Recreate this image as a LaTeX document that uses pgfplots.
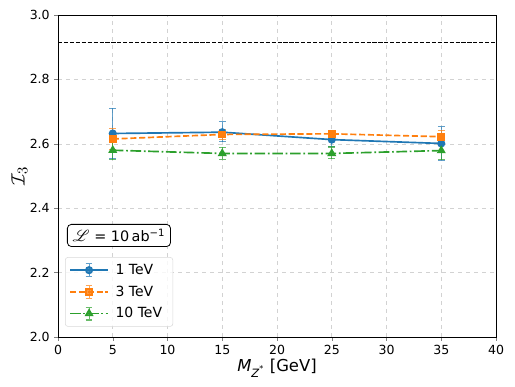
\documentclass[border=0pt]{standalone}
\usepackage{pgfplots}
\pgfplotsset{compat=1.18}
\usepackage{fontspec}
\usepackage{mathrsfs}
\setmainfont{DejaVu Sans}
\definecolor{tabblue}{HTML}{1F77B4}
\definecolor{taborange}{HTML}{FF7F0E}
\definecolor{tabgreen}{HTML}{2CA02C}

\pgfplotstableread{
x y ep em
5  2.632 0.078 0.078
15 2.636 0.033 0.030
25 2.613 0.020 0.022
35 2.601 0.052 0.052
}\tevone
\pgfplotstableread{
x y ep em
5  2.615 0.032 0.032
15 2.629 0.015 0.015
25 2.631 0.010 0.010
35 2.622 0.020 0.020
}\tevthree
\pgfplotstableread{
x y ep em
5  2.580 0.032 0.030
15 2.570 0.019 0.018
25 2.570 0.020 0.016
35 2.579 0.030 0.029
}\tevten

\begin{document}
\begin{tikzpicture}
\begin{axis}[
  scale only axis, width=328.5pt, height=241.5pt,
  xmin=0, xmax=40, ymin=2.0, ymax=3.0,
  xtick={0,5,...,40}, ytick={2.0,2.2,...,3.0},
  yticklabel style={/pgf/number format/.cd,fixed,fixed zerofill,precision=1},
  /pgf/number format/assume math mode=true,
  tick label style={font=\fontsize{9.4}{11}\selectfont},
  tick align=outside, xtick pos=bottom, ytick pos=left,
  major tick length=2.7pt,
  grid=major, grid style={dashed, gray!35, line width=0.4pt},
  axis line style={line width=0.6pt},
  xlabel={{\itshape M}\textsubscript{\itshape Z\textsuperscript{*}} [GeV]},
  ylabel={$\mathcal{I}_3$},
  label style={font=\fontsize{12.3}{14}\selectfont},
  xlabel style={at={(axis description cs:0.5,-0.0964)}, anchor=center},
  ylabel style={at={(axis description cs:-0.088,0.5)}, anchor=center,
    font=\fontsize{15}{17}\selectfont},
  legend style={at={(axis cs:0.64,2.248)}, anchor=north west,
    draw=gray!30, rounded corners=2pt, fill=white, fill opacity=0.8, text opacity=1,
    font=\fontsize{10.5}{12}\selectfont, row sep=3pt, inner sep=3pt,
    nodes={inner xsep=5pt}},
  legend cell align=left,
  legend image code/.code={
    \draw[#1] (0cm,0cm) -- (1.0cm,0cm);
    \draw[#1,solid,mark=none,opacity=0.7,line width=0.8pt] (0.5cm,-0.17cm) -- (0.5cm,0.17cm)
      (0.41cm,-0.17cm) -- (0.59cm,-0.17cm) (0.41cm,0.17cm) -- (0.59cm,0.17cm);
    \draw[#1,solid,only marks] plot coordinates {(0.5cm,0cm)};
  },
  error bars/error bar style={solid, opacity=0.7, line width=0.8pt},
  error bars/error mark options={rotate=90, mark size=2.6pt, line width=0.8pt, opacity=0.7},
]
\addplot[tabblue, line width=1.25pt, mark=*, mark size=2.4pt,
  error bars/.cd, y dir=both, y explicit]
  table[x=x, y=y, y error plus=ep, y error minus=em] {\tevone};
\addlegendentry{1 TeV}
\addplot[taborange, line width=1.25pt, dash pattern=on 4.6pt off 2pt,
  mark=square*, mark size=2.3pt, mark options={solid},
  error bars/.cd, y dir=both, y explicit]
  table[x=x, y=y, y error plus=ep, y error minus=em] {\tevthree};
\addlegendentry{3 TeV}
\addplot[tabgreen, line width=1.25pt, dash pattern=on 8pt off 2pt on 1.3pt off 2pt,
  mark=triangle*, mark size=2.7pt, mark options={solid},
  error bars/.cd, y dir=both, y explicit]
  table[x=x, y=y, y error plus=ep, y error minus=em] {\tevten};
\addlegendentry{10 TeV}
\addplot[black, line width=0.75pt, dash pattern=on 3.1pt off 1.35pt, forget plot]
  coordinates {(0,2.916)(40,2.916)};
\node[draw=black, rounded corners=3pt, fill=white, anchor=north west,
  inner xsep=4pt, inner ysep=3.5pt,
  font=\fontsize{10.8}{12}\selectfont, line width=0.6pt]
  at (axis cs:0.82,2.351) {{\fontsize{12.5}{13}\selectfont$\mathscr{L}$} = 10\,ab\textsuperscript{−1}};
\end{axis}
\pgfresetboundingbox
\path ([xshift=-43.5pt,yshift=-37.5pt]current axis.south west)
  rectangle ([xshift=14.25pt,yshift=11.25pt]current axis.north east);
\end{tikzpicture}
\end{document}
